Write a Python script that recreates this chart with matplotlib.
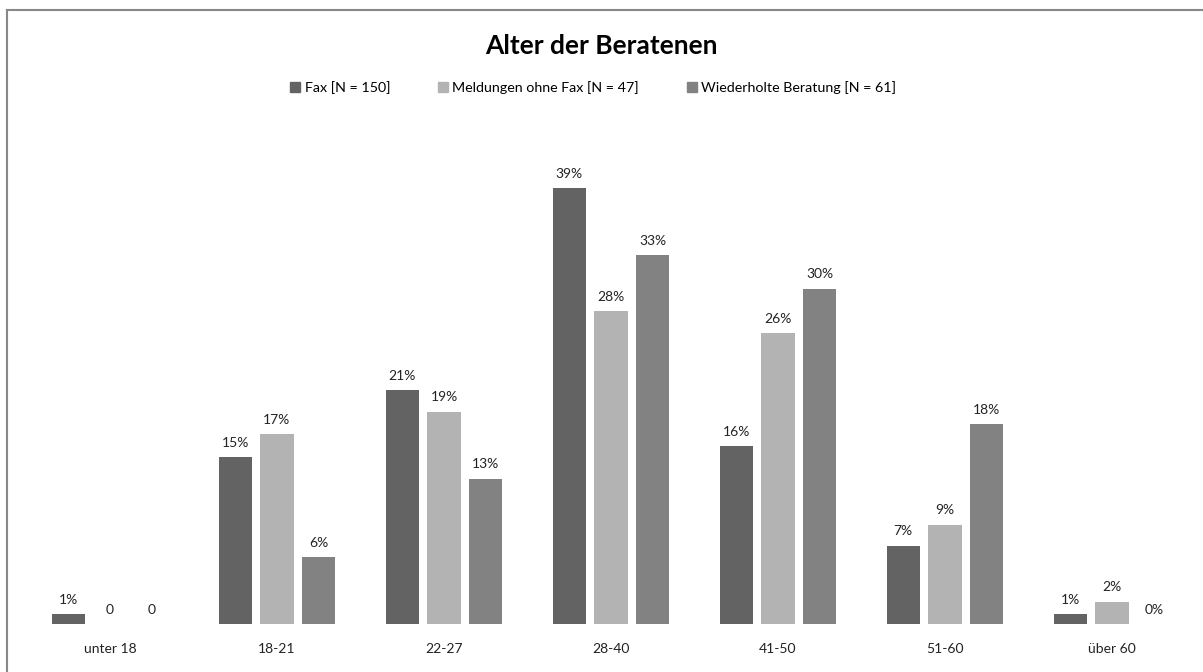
import numpy as np
import matplotlib.pyplot as plt
from matplotlib.lines import Line2D

plt.rcParams['font.family'] = ['Lato', 'DejaVu Sans']

categories = ['unter 18', '18-21', '22-27', '28-40', '41-50', '51-60', 'über 60']
series = ['Fax [N = 150]', 'Meldungen ohne Fax [N = 47]', 'Wiederholte Beratung [N = 61]']
fax = [0.9, 14.9, 20.9, 39.0, 15.9, 7.0, 0.9]
ohne_fax = [0, 17.0, 19.0, 28.0, 26.0, 8.9, 2.0]
wiederholt = [0, 6.0, 13.0, 33.0, 30.0, 17.9, 0]
fax_labels = ['1%', '15%', '21%', '39%', '16%', '7%', '1%']
ohne_fax_labels = ['0', '17%', '19%', '28%', '26%', '9%', '2%']
wiederholt_labels = ['0', '6%', '13%', '33%', '30%', '18%', '0%']

colors = ['#636363', '#b3b3b3', '#828282']

fig = plt.figure(figsize=(12.03, 6.72), dpi=100)
ax = fig.add_axes([0.022, 0.0714, 0.9718, 0.7486])

x = np.arange(len(categories))
width = 0.2
offsets = [-0.25, 0, 0.25]
values = [fax, ohne_fax, wiederholt]
labels = [fax_labels, ohne_fax_labels, wiederholt_labels]

for i in range(3):
    bars = ax.bar(x + offsets[i], values[i], width, color=colors[i], label=series[i])
    for b, lab in zip(bars, labels[i]):
        ax.annotate(lab, (b.get_x() + b.get_width() / 2, b.get_height()),
                    xytext=(0, 6), textcoords='offset points',
                    ha='center', va='bottom', fontsize=10, color='#222222')

ax.set_xlim(-0.5, 6.5)
ax.set_ylim(0, 45)
ax.set_xticks(x)
ax.set_xticklabels(categories, fontsize=10, color='#222222')
ax.tick_params(axis='x', length=0, pad=14)
ax.set_yticks([])
for s in ax.spines.values():
    s.set_visible(False)

fig.text(0.5, 1 - 46 / 672, 'Alter der Beratenen', ha='center', va='center',
         fontsize=19, fontweight='bold')

handles = [Line2D([], [], marker='s', linestyle='', color=c, markersize=7) for c in colors]
fig.legend(handles, series, loc='center', bbox_to_anchor=(593 / 1203, 1 - 88 / 672), ncol=3,
           frameon=False, fontsize=10.3, handletextpad=0.25, columnspacing=3.3,
           handlelength=0.8)

# border lines at top and left
fig.add_artist(Line2D([7 / 1203, 1], [1 - 10 / 672, 1 - 10 / 672], color='#888888', lw=1.5,
                      transform=fig.transFigure))
fig.add_artist(Line2D([7 / 1203, 7 / 1203], [0, 1 - 10 / 672], color='#888888', lw=1.5,
                      transform=fig.transFigure))

fig.savefig('out.png', dpi=100)
